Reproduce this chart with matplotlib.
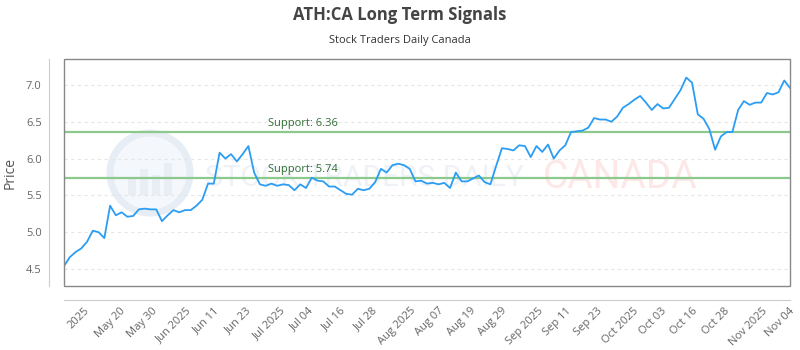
import numpy as np
import matplotlib
matplotlib.use("Agg")
import matplotlib.pyplot as plt
from matplotlib.patches import Rectangle, Circle

# --- DATA ---
PRICES = [
    4.54, 4.66, 4.73, 4.78, 4.87, 5.02, 5.00, 4.92, 5.36, 5.23,
    5.27, 5.21, 5.22, 5.31, 5.32, 5.31, 5.31, 5.15, 5.23, 5.30,
    5.27, 5.30, 5.30, 5.36, 5.44, 5.66, 5.66, 6.08, 6.00, 6.06,
    5.96, 6.06, 6.17, 5.81, 5.65, 5.63, 5.66, 5.63, 5.65,
    5.64, 5.57, 5.65, 5.60, 5.74, 5.70, 5.69, 5.62, 5.62, 5.57,
    5.52, 5.51, 5.59, 5.57, 5.59, 5.68, 5.86, 5.81, 5.91, 5.93,
    5.91, 5.86, 5.69, 5.70, 5.66, 5.67, 5.65, 5.67, 5.60, 5.81,
    5.69, 5.69, 5.73, 5.77, 5.68, 5.65, 5.90, 6.14, 6.13, 6.11,
    6.18,
    6.17, 6.02, 6.17, 6.09, 6.19, 6.00, 6.11, 6.18, 6.36, 6.37,
    6.38, 6.42, 6.55, 6.53, 6.53, 6.50, 6.57, 6.69, 6.74, 6.80,
    6.85, 6.76, 6.66, 6.74, 6.68, 6.69, 6.81, 6.93, 7.10, 7.03,
    6.60, 6.54, 6.40, 6.12, 6.30, 6.36, 6.36, 6.66, 6.78, 6.73,
    6.76, 6.76, 6.89, 6.87, 6.90, 7.06, 6.96,
]

X_LABELS = [
    "2025", "May 20", "May 30", "Jun 2025", "Jun 11", "Jun 23", "Jul 2025",
    "Jul 04", "Jul 16", "Jul 28", "Aug 2025", "Aug 07", "Aug 19", "Aug 29",
    "Sep 2025", "Sep 11", "Sep 23", "Oct 2025", "Oct 03", "Oct 16", "Oct 28",
    "Nov 2025", "Nov 04",
]

SUPPORTS = [6.36, 5.74]
Y_TICKS = [4.5, 5.0, 5.5, 6.0, 6.5, 7.0]

TITLE = "ATH:CA Long Term Signals"
SUBTITLE = "Stock Traders Daily Canada"

plt.rcParams['font.family'] = ['Open Sans', 'DejaVu Sans']

fig = plt.figure(figsize=(8, 3.5), dpi=100)
ax = fig.add_axes([0.08, 0.183, 0.9075, 0.648])
ax.set_facecolor("none")

n = len(PRICES)
x = np.arange(n)

# --- watermark (behind the axes) ---
wm = fig.dpi_scale_trans
fig.patches.append(Circle((1.50, 3.5 - 1.73), 0.40, transform=wm,
                          facecolor="#f4f7fb", edgecolor="#e7edf4", lw=5,
                          zorder=-5, figure=fig))
for bx, bh in [(1.28, 0.16), (1.40, 0.26), (1.52, 0.20), (1.64, 0.32)]:
    fig.patches.append(Rectangle((bx, 3.5 - 1.95), 0.08, bh, transform=wm,
                                 facecolor="#e9eef5", edgecolor="none",
                                 zorder=-5, figure=fig))
fig.text(205 / 800, 1 - 178 / 350, "STOCK TRADERS DAILY", fontsize=21.5,
         color="#eef2f7", va="center", ha="left", zorder=-5,
         family=["Roboto", "DejaVu Sans"])
fig.text(543 / 800, 1 - 178 / 350, "CANADA", fontsize=28,
         color="#fde7e7", va="center", ha="left", zorder=-5,
         family=["Roboto", "DejaVu Sans"])

ax.plot(x, PRICES, color="#2b9df4", lw=1.3, zorder=3)

for s in SUPPORTS:
    ax.axhline(s, color="#8cc98c", lw=1.6, zorder=2)
    ax.text(n * 0.279, s + 0.04, f"Support: {s:.2f}", color="#2f6e33",
            fontsize=8, ha="left", va="bottom", zorder=4)

ax.set_xlim(0, n - 1)
ax.set_ylim(4.27, 7.35)
ax.set_yticks(Y_TICKS)
ax.set_yticklabels([f"{v:.1f}" for v in Y_TICKS])
ax.grid(axis="y", color="#e6e6e6", ls=(0, (3, 3)), lw=0.8, zorder=1)

ax.set_xticks(np.linspace(2.5, 124.3, len(X_LABELS)))
ax.set_xticklabels(X_LABELS)

ax.tick_params(axis="both", length=0, colors="#666666", labelsize=8)
ax.tick_params(axis="y", pad=5)
ax.tick_params(axis="x", pad=4, labelrotation=45)
for lbl in ax.get_xticklabels():
    lbl.set_ha("right")
    lbl.set_rotation_mode("anchor")

for side in ["top", "right"]:
    ax.spines[side].set_visible(False)
ax.spines["left"].set_position(("outward", 11))
ax.spines["bottom"].set_position(("outward", 10))
ax.spines["left"].set_color("#cccccc")
ax.spines["bottom"].set_color("#cccccc")

ax.add_patch(Rectangle((0, 0), 1, 1, transform=ax.transAxes, fill=False,
                       edgecolor="#888888", lw=1.0, zorder=5, clip_on=False))

ax.set_ylabel("Price", color="#555555", fontsize=10, labelpad=6)

fig.text(0.5, 1 - 15 / 350, TITLE, ha="center", va="center", fontsize=12,
         fontweight="bold", color="#444444")
fig.text(0.5, 1 - 40 / 350, SUBTITLE, ha="center", va="center", fontsize=8,
         color="#333333")

fig.savefig("out.png", dpi=100)
